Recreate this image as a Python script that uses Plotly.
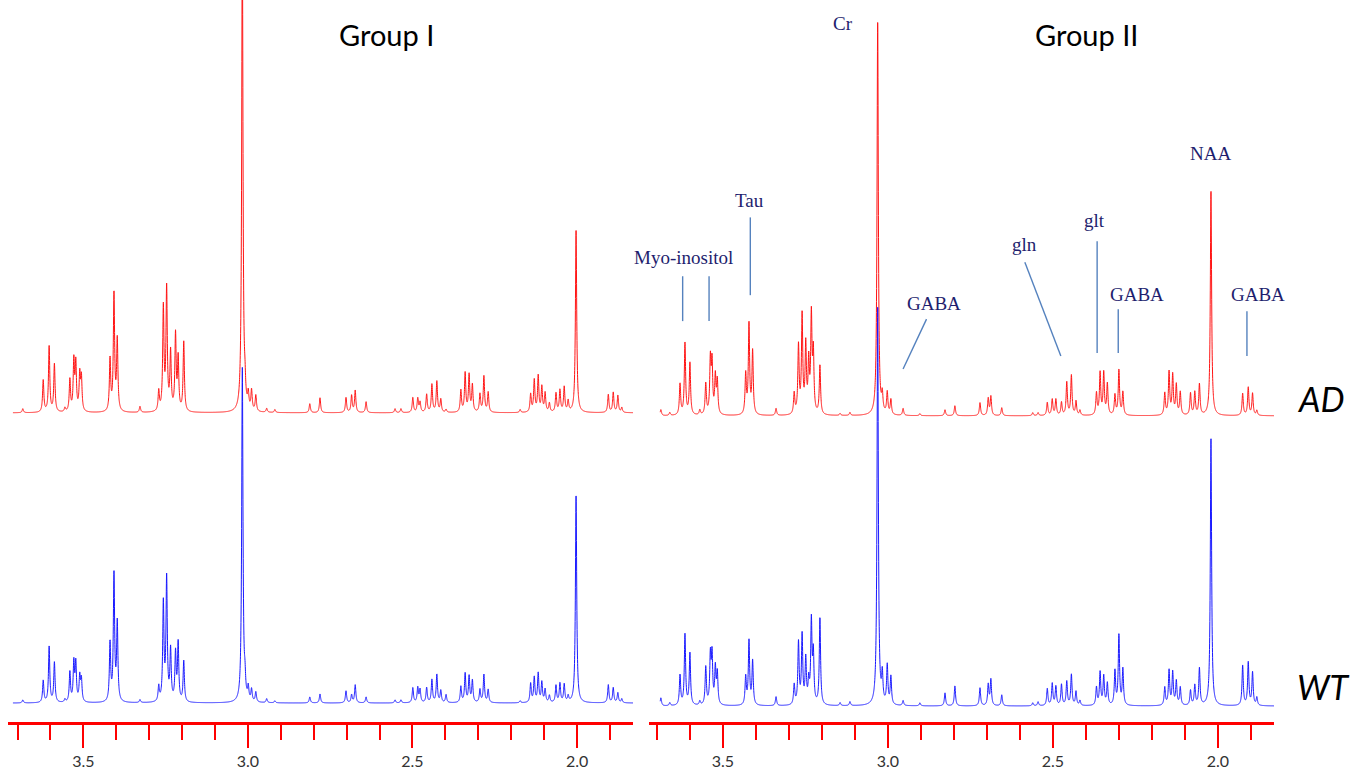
import numpy as np
import plotly.graph_objects as go

# ---------------- data: peak lists ----------------
# Group I : chemical shift (ppm) and peak intensity (a.u.) for AD and WT
g1_ppm = [3.684, 3.622, 3.604, 3.588, 3.556, 3.541, 3.529, 3.523, 3.511, 3.506,
          3.419, 3.407, 3.397, 3.328, 3.271, 3.257, 3.247, 3.235, 3.220, 3.212,
          3.195, 3.017, 3.009, 2.999, 2.989, 2.976, 2.943, 2.918, 2.812, 2.781,
          2.702, 2.685, 2.674, 2.641, 2.553, 2.535, 2.499, 2.484, 2.477, 2.457,
          2.441, 2.426, 2.414, 2.398, 2.353, 2.340, 2.328, 2.318, 2.295, 2.283,
          2.270, 2.173, 2.141, 2.130, 2.118, 2.107, 2.097, 2.084, 2.064, 2.052,
          2.039, 2.027, 2.003, 1.905, 1.890, 1.876, 1.864]
g1_ad = [4, 32, 66, 48, 4, 32, 50, 47, 36, 33,
         52, 117, 71, 6, 20, 103, 122, 58, 76, 52,
         70, 480, 17, 15, 20, 16, 4, 3, 9, 15,
         15, 17, 22, 11, 4, 4, 15, 14, 10, 18,
         28, 31, 13, 3, 22, 39, 37, 27, 18, 36,
         20, 3, 18, 32, 36, 25, 19, 9, 19, 22,
         25, 11, 183, 18, 20, 17, 5]
g1_wt = [3, 22, 56, 40, 3, 30, 39, 38, 25, 22,
         58, 127, 78, 3, 15, 98, 123, 51, 48, 58,
         41, 335, 17, 13, 12, 10, 4, 2, 6, 9,
         12, 8, 18, 6, 3, 3, 15, 15, 13, 15,
         23, 28, 12, 8, 16, 29, 26, 22, 13, 28,
         13, 2, 19, 25, 29, 20, 13, 7, 17, 19,
         18, 6, 208, 18, 15, 10, 4]

# Group II
g2_ppm = [3.688, 3.661, 3.630, 3.615, 3.600, 3.570, 3.552, 3.538, 3.533, 3.523,
          3.517, 3.431, 3.421, 3.410, 3.339, 3.284, 3.271, 3.260, 3.249, 3.240,
          3.232, 3.226, 3.206, 3.145, 3.115, 3.031, 3.017, 3.002, 2.991, 2.954,
          2.903, 2.827, 2.797, 2.721, 2.696, 2.688, 2.655, 2.561, 2.545, 2.517,
          2.502, 2.491, 2.474, 2.458, 2.444, 2.430, 2.418, 2.368, 2.357, 2.346,
          2.335, 2.312, 2.300, 2.288, 2.161, 2.148, 2.137, 2.126, 2.114, 2.083,
          2.070, 2.056, 2.021, 1.925, 1.908, 1.895, 1.882]
g2_ad = [6, 3, 31, 72, 52, 5, 31, 54, 50, 37,
         33, 40, 90, 63, 7, 21, 68, 98, 68, 50,
         96, 59, 49, 2, 3, 395, 17, 22, 15, 7,
         2, 6, 10, 13, 17, 19, 8, 3, 3, 13,
         16, 16, 13, 33, 40, 14, 5, 22, 42, 42,
         31, 20, 45, 23, 22, 43, 40, 30, 23, 22,
         23, 31, 225, 22, 28, 22, 5]
g2_wt = [8, 3, 30, 71, 52, 4, 38, 48, 48, 36,
         31, 28, 64, 44, 9, 20, 62, 69, 45, 22,
         82, 49, 87, 3, 4, 400, 28, 39, 28, 5,
         3, 13, 20, 18, 21, 26, 11, 3, 4, 17,
         22, 19, 21, 24, 31, 14, 5, 18, 33, 29,
         22, 34, 70, 36, 18, 35, 33, 24, 18, 15,
         20, 37, 268, 40, 43, 33, 8]

metab_labels = ["Cr", "Tau", "Myo-inositol", "GABA", "gln", "glt", "GABA", "NAA", "GABA"]
metab_ppm = [3.135, 3.420, 3.618, 2.861, 2.585, 2.373, 2.245, 2.022, 1.878]
tick_vals = [3.5, 3.0, 2.5, 2.0]

# ---------------- layout constants ----------------
W, H = 1352, 770
B = 46                # bottom margin -> axis line at y=724
PH = H - B            # plot height in px (y units = px above axis)
LW = 0.0023           # Lorentzian half width (ppm)
OFF = {"g1_ad": 310, "g1_wt": 19, "g2_ad": 307, "g2_wt": 16}


def spectrum(ppm_grid, centers, heights):
    c = np.asarray(centers)[:, None]
    h = np.asarray(heights, dtype=float)[:, None]
    return (h / (1.0 + ((ppm_grid[None, :] - c) / LW) ** 2)).sum(axis=0)


grid1 = np.linspace(3.714, 1.81, 7000)
grid2 = np.linspace(3.690, 1.82, 7000)

RED = "rgb(255,20,20)"
BLUE = "rgb(25,25,255)"

fig = go.Figure()
fig.add_trace(go.Scatter(x=grid1, y=spectrum(grid1, g1_ppm, g1_ad) + OFF["g1_ad"],
                         mode="lines", line=dict(color=RED, width=1, simplify=False),
                         xaxis="x", yaxis="y", hoverinfo="skip"))
fig.add_trace(go.Scatter(x=grid1, y=spectrum(grid1, g1_ppm, g1_wt) + OFF["g1_wt"],
                         mode="lines", line=dict(color=BLUE, width=1, simplify=False),
                         xaxis="x", yaxis="y", hoverinfo="skip"))
fig.add_trace(go.Scatter(x=grid2, y=spectrum(grid2, g2_ppm, g2_ad) + OFF["g2_ad"],
                         mode="lines", line=dict(color=RED, width=1, simplify=False),
                         xaxis="x2", yaxis="y2", hoverinfo="skip"))
fig.add_trace(go.Scatter(x=grid2, y=spectrum(grid2, g2_ppm, g2_wt) + OFF["g2_wt"],
                         mode="lines", line=dict(color=BLUE, width=1, simplify=False),
                         xaxis="x2", yaxis="y2", hoverinfo="skip"))

xcommon = dict(
    showline=True, linecolor="rgb(255,0,0)", linewidth=3,
    ticks="outside", tickcolor="rgb(255,0,0)", ticklen=23, tickwidth=1.5,
    tickmode="array", tickvals=tick_vals, ticktext=[f"{v:.1f}" for v in tick_vals],
    tickfont=dict(family="Lato", size=16, color="#333333"),
    minor=dict(dtick=0.1, tick0=0, ticklen=15, tickcolor="rgb(255,0,0)",
               tickwidth=1.5, ticks="outside", showgrid=False),
    showgrid=False, zeroline=False,
)
ycommon = dict(range=[0, PH], visible=False, showgrid=False, zeroline=False, domain=[0, 1])

fig.update_layout(
    width=W, height=H,
    margin=dict(l=0, r=0, t=0, b=B, pad=0),
    paper_bgcolor="white", plot_bgcolor="white",
    showlegend=False,
    xaxis=dict(domain=[8 / W, 633 / W], range=[3.729, 1.830], anchor="y", **xcommon),
    xaxis2=dict(domain=[649 / W, 1274 / W], range=[3.724, 1.830], anchor="y2", **xcommon),
    yaxis=dict(anchor="x", **ycommon),
    yaxis2=dict(anchor="x2", **ycommon),
)

# metabolite pointer lines (Group II panel)
LINE_C = "rgb(85,130,190)"
pointer_lines = [
    (3.622, 447, 3.622, 402), (3.542, 447, 3.542, 402),
    (3.417, 506, 3.417, 428),
    (2.883, 404, 2.954, 354),
    (2.585, 461, 2.476, 367),
    (2.366, 482, 2.366, 370),
    (2.302, 414, 2.302, 370),
    (1.912, 412, 1.912, 367),
]
for x0, y0, x1, y1 in pointer_lines:
    fig.add_shape(type="line", xref="x2", yref="y2", x0=x0, y0=y0, x1=x1, y1=y1,
                  line=dict(color=LINE_C, width=1.4))

label_y = [700, 523, 466, 420, 479, 503, 429, 570, 429]
for txt, xv, yv in zip(metab_labels, metab_ppm, label_y):
    fig.add_annotation(x=xv, y=yv, xref="x2", yref="y2", text=txt, showarrow=False,
                       font=dict(family="Liberation Serif", size=19, color="rgb(30,30,110)"),
                       xanchor="center", yanchor="middle")

# panel titles and group labels
for txt, px, py in [("Group I", 386, 35), ("Group II", 1086, 35)]:
    fig.add_annotation(x=px / W, y=(PH - py) / PH, xref="paper", yref="paper", text=txt,
                       showarrow=False, font=dict(family="Lato", size=29, color="black"),
                       xanchor="center", yanchor="middle")
for txt, px, py in [("AD", 1321, 400), ("WT", 1323, 688)]:
    fig.add_annotation(x=px / W, y=(PH - py) / PH, xref="paper", yref="paper",
                       text=f"<i>{txt}</i>", showarrow=False,
                       font=dict(family="Lato", size=34, color="black"),
                       xanchor="center", yanchor="middle")

fig.write_html("out.html")
